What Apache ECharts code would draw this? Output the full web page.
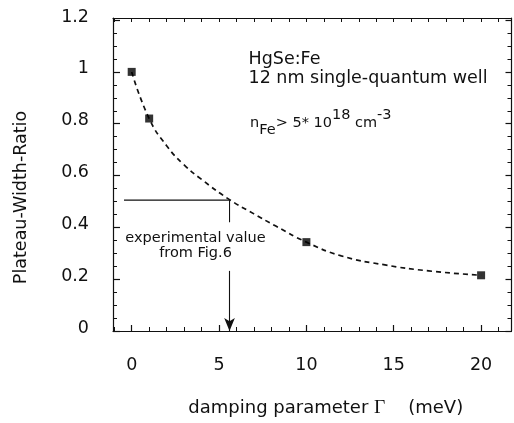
<!DOCTYPE html>
<html>
<head>
<meta charset="utf-8">
<script src="https://cdn.jsdelivr.net/npm/echarts@6/dist/echarts.min.js"></script>
<style>html,body{margin:0;padding:0;background:#fff}#c{width:514px;height:423px}</style>
</head>
<body>
<div id="c"></div>
<script>
// ---- data ----
const pointX = [0, 1, 10, 20];
const pointY = [1.0, 0.82, 0.343, 0.215];
// dashed guide curve, read along the drawn dashes
const curveX = [0, 1, 2, 3, 4, 5.6, 7, 8.25, 10, 12, 14.5, 17, 20];
const curveY = [1.0, 0.82, 0.715, 0.641, 0.585, 0.507, 0.452, 0.405, 0.343, 0.29, 0.255, 0.232, 0.215];
// experimental value guide: horizontal then vertical line, arrow down to the axis
const guideX = [-0.44, 5.6, 5.6];
const guideY = [0.505, 0.505, 0.42];
const arrowX = [5.6, 5.6];
const arrowY = [0.232, 0];
// ticks
const xMajor = [0, 5, 10, 15, 20];
const xMinor = [-1, 0, 1, 2, 3, 4, 5, 6, 7, 8, 9, 10, 11, 12, 13, 14, 15, 16, 17, 18, 19, 20, 21];
const yMajor = [0, 0.2, 0.4, 0.6, 0.8, 1, 1.2];
const yMinor = [0, 0.05, 0.1, 0.15, 0.2, 0.25, 0.3, 0.35, 0.4, 0.45, 0.5, 0.55, 0.6, 0.65, 0.7, 0.75, 0.8, 0.85, 0.9, 0.95, 1.0, 1.05, 1.1, 1.15, 1.2];
const xLabelText = ['0', '5', '10', '15', '20'];
const yLabelText = ['0', '0.2', '0.4', '0.6', '0.8', '1', '1.2'];

const X_MIN = -1.07, X_MAX = 21.74, Y_MIN = 0, Y_MAX = 1.208;
const FONT = 'DejaVu Sans';
const INK = '#111';

function xAxisBase(pos) {
  return {
    type: 'value', min: X_MIN, max: X_MAX, position: pos, gridIndex: 0,
    axisLine: { show: false, onZero: false, lineStyle: { color: INK, width: 1.2 } },
    axisTick: { show: false },
    axisLabel: { show: false },
    splitLine: { show: false }
  };
}
function yAxisBase(pos) {
  return {
    type: 'value', min: Y_MIN, max: Y_MAX, position: pos, gridIndex: 0,
    axisLine: { show: false, onZero: false, lineStyle: { color: INK, width: 1.2 } },
    axisTick: { show: false },
    axisLabel: { show: false },
    splitLine: { show: false }
  };
}

const xMain = xAxisBase('bottom');
xMain.axisLine.show = true;
xMain.axisTick = { show: true, inside: true, length: 6, customValues: xMajor, lineStyle: { color: INK, width: 1.2 } };
xMain.axisLabel = {
  show: true, customValues: xMajor, margin: 25, fontSize: 17.5, fontFamily: FONT, color: INK,
  formatter: v => xLabelText[xMajor.indexOf(Math.round(v))] || ''
};
xMain.name = '{a|damping parameter }{g|Γ}{a|    (meV)}';
xMain.nameLocation = 'middle';
xMain.nameGap = 67;
xMain.nameTextStyle = {
  padding: [0, 0, 0, 27],
  rich: {
    a: { fontSize: 18, fontFamily: FONT, color: INK },
    g: { fontSize: 19.5, fontFamily: 'Liberation Serif', color: INK }
  }
};

const xMinorAx = xAxisBase('bottom');
xMinorAx.axisTick = { show: true, inside: true, length: 4, customValues: xMinor, lineStyle: { color: INK, width: 1 } };

const xTop = xAxisBase('top');
xTop.axisLine.show = true;
xTop.axisTick = { show: true, inside: true, length: 4, customValues: xMinor, lineStyle: { color: INK, width: 1 } };

const yMain = yAxisBase('left');
yMain.axisLine.show = true;
yMain.axisTick = { show: true, inside: true, length: 7, customValues: yMajor, lineStyle: { color: INK, width: 1.2 } };
yMain.axisLabel = {
  show: true, customValues: yMajor, margin: 24, fontSize: 17.5, fontFamily: FONT, color: INK,
  verticalAlign: 'bottom', lineHeight: 6,
  formatter: v => { const i = yMajor.findIndex(t => Math.abs(t - v) < 1e-6); return i >= 0 ? yLabelText[i] : ''; }
};
yMain.name = 'Plateau-Width-Ratio';
yMain.nameLocation = 'middle';
yMain.nameGap = 83;
yMain.nameTextStyle = { fontSize: 17.5, fontFamily: FONT, color: INK, padding: [0, 46, 0, 0] };

const yMinorAx = yAxisBase('left');
yMinorAx.axisTick = { show: true, inside: true, length: 4, customValues: yMinor, lineStyle: { color: INK, width: 1 } };

const yRight = yAxisBase('right');
yRight.axisLine.show = true;
yRight.axisTick = { show: true, inside: true, length: 6, customValues: yMajor, lineStyle: { color: INK, width: 1.2 } };

const yRightMinor = yAxisBase('right');
yRightMinor.axisTick = { show: true, inside: true, length: 4, customValues: yMinor, lineStyle: { color: INK, width: 1 } };

const option = {
  animation: false,
  backgroundColor: '#fff',
  grid: { left: 113, right: 2.5, top: 18, bottom: 91, containLabel: false },
  xAxis: [xMain, xMinorAx, xTop],
  yAxis: [yMain, yMinorAx, yRight, yRightMinor],
  series: [
    {
      name: 'curve', type: 'line', xAxisIndex: 0, yAxisIndex: 0,
      data: curveX.map((x, i) => [x, curveY[i]]),
      smooth: 0.5, showSymbol: false, symbol: 'none',
      lineStyle: { color: INK, width: 1.7, type: [5, 4] }, z: 2
    },
    {
      name: 'guide', type: 'line', xAxisIndex: 0, yAxisIndex: 0,
      data: guideX.map((x, i) => [x, guideY[i]]),
      showSymbol: false, symbol: 'none',
      lineStyle: { color: INK, width: 1.1 }, z: 3,
      markLine: {
        silent: true, symbol: ['none', 'arrow'], symbolSize: [8, 13],
        label: { show: false },
        lineStyle: { color: INK, width: 1.1, type: 'solid' },
        data: [[{ coord: [arrowX[0], arrowY[0]] }, { coord: [arrowX[1], arrowY[1]] }]]
      }
    },
    {
      name: 'points', type: 'scatter', xAxisIndex: 0, yAxisIndex: 0,
      data: pointX.map((x, i) => [x, pointY[i]]),
      symbol: 'rect', symbolSize: 8,
      itemStyle: { color: '#000' }, z: 5
    }
  ],
  graphic: [
    {
      type: 'text', x: 248.5, y: 50.5,
      style: {
        text: 'HgSe:Fe\n12 nm single-quantum well', fill: INK,
        font: '17.5px "DejaVu Sans"', lineHeight: 18.5,
        align: 'left', verticalAlign: 'top', textAlign: 'left', textVerticalAlign: 'top'
      }
    },
    {
      type: 'text', x: 250, y: 108,
      style: {
        text: '{m|n}{b|Fe}{m|> 5* 10}{t|18}{m| cm}{t|-3}', fill: INK,
        align: 'left', verticalAlign: 'top', textAlign: 'left', textVerticalAlign: 'top',
        rich: {
          m: { fontSize: 14.5, fontFamily: FONT, fill: INK, lineHeight: 30, verticalAlign: 'middle' },
          t: { fontSize: 14.5, fontFamily: FONT, fill: INK, lineHeight: 20, verticalAlign: 'top' },
          b: { fontSize: 14.5, fontFamily: FONT, fill: INK, lineHeight: 8, verticalAlign: 'bottom' }
        }
      }
    },
    {
      type: 'text', x: 195.5, y: 231,
      style: {
        text: 'experimental value\nfrom Fig.6', fill: INK,
        font: '14.5px "DejaVu Sans"', lineHeight: 15,
        align: 'center', verticalAlign: 'top', textAlign: 'center', textVerticalAlign: 'top'
      }
    }
  ]
};

const chart = echarts.init(document.getElementById('c'), null, { renderer: 'canvas' });
chart.setOption(option);
</script>
</body>
</html>
